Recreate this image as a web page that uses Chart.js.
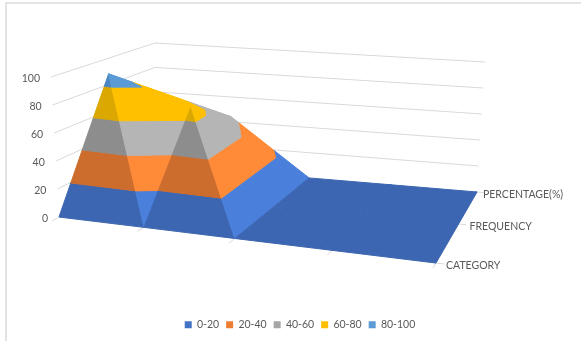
<!DOCTYPE html>
<html>
<head>
<meta charset="utf-8">
<title>Surface chart</title>
<script src="https://cdn.jsdelivr.net/npm/chart.js@4/dist/chart.umd.min.js"></script>
<style>
    html, body { margin: 0; padding: 0; background: #fff; }
    canvas { display: block; }
</style>
</head>
<body>
<canvas id="surface" width="581" height="341"></canvas>
<script>
// surface values, one list per series, five categories each
const seriesNames = ["CATEGORY", "FREQUENCY", "PERCENTAGE(%)"]
const categoryValues = [0, 0, 0, 0, 0]
const frequencyValues = [88, 68, 0, 0, 0]
const percentageValues = [45, 44, 0, 0, 0]
const valueTicks = [0, 20, 40, 60, 80, 100]
const bandNames = ["0-20", "20-40", "40-60", "60-80", "80-100"]
const bandFloors = [0, 20, 40, 60, 80]
const bandSize = 20

const legendColors = ["#4472c4", "#ed7d31", "#a5a5a5", "#ffc000", "#5b9bd5"]
const shadeColors = ["#3c66b1", "#cc6d2e", "#8d8d8d", "#daa800", "#4c86c2"]
const lightColors = ["#4a7fdb", "#ff8a37", "#b5b5b5", "#ffc000", "#5b9bd5"]
const gridColor = "#d9d9d9"
const textColor = "#595959"
const seriesLabelGaps = [10, 11, 6]

let rows = [categoryValues, frequencyValues, percentageValues]

// view box of the 3D plot: floor and roof corners as seen on the page
const view = {
    frontLeft: [[59, 217], [51, 77]],
    backLeft: [[155, 165], [155, 43]],
    frontRight: [[436, 263], [444, 115]],
    backRight: [[477, 192], [485, 62]]
}
const frontWarp = 1.145
const backWarp = 1.09
const depthWarp = 0.82
const depthFalloff = 0.12

let warp = (t, w) => t / (t + w * (1 - t))
let mix = (a, b, t) => [a[0] + (b[0] - a[0]) * t, a[1] + (b[1] - a[1]) * t]

// u: 0..1 along the categories, s: 0..1 into the depth, value: 0..100
let project = (u, s, value) => {
    let ws = warp(s, depthWarp)
    let wu = warp(u, frontWarp + (backWarp - frontWarp) * ws)
    let h = value / 100
    let left = mix(mix(view.frontLeft[0], view.frontLeft[1], h), mix(view.backLeft[0], view.backLeft[1], h), ws)
    let right = mix(mix(view.frontRight[0], view.frontRight[1], h), mix(view.backRight[0], view.backRight[1], h), ws)
    let p = mix(left, right, wu)
    return { x: p[0], y: p[1] }
}

let cols = rows[0].length
let vertex = (i, j) => {
    let s = j / (rows.length - 1)
    let p = project(i / (cols - 1), s, rows[j][i])
    return { x: p.x, y: p.y, v: rows[j][i], z: 1 + depthFalloff * s }
}

// cut a facet down to the part between two values,
// nearer parts of an edge take up more of the page than farther ones
let clip = (poly, limit, keepAbove) => {
    let out = []
    poly.forEach((a, k) => {
        let b = poly[(k + 1) % poly.length]
        let aIn = keepAbove ? a.v >= limit : a.v <= limit
        let bIn = keepAbove ? b.v >= limit : b.v <= limit
        if (aIn) out.push(a)
        if (aIn != bIn) {
            let t = (limit - a.v) / (b.v - a.v)
            let seen = t * b.z / ((1 - t) * a.z + t * b.z)
            out.push({
                x: a.x + (b.x - a.x) * seen,
                y: a.y + (b.y - a.y) * seen,
                v: limit,
                z: a.z + (b.z - a.z) * t
            })
        }
    })
    return out
}

// facets falling towards the later categories catch the light
let facetsOfCell = (i, j) => {
    let a = vertex(i, j), b = vertex(i + 1, j), c = vertex(i, j + 1), d = vertex(i + 1, j + 1)
    if (j == 0)
        return [{ pts: [a, b, c], light: b.v < a.v }, { pts: [b, c, d], light: d.v < c.v }]
    return [{ pts: [a, c, d], light: d.v < c.v }, { pts: [a, b, d], light: b.v < a.v }]
}

let lineSet = (points, color, width) => ({
    data: points,
    showLine: true,
    fill: false,
    borderColor: color,
    borderWidth: width,
    pointRadius: 0,
    tension: 0
})

let paintList = []

// walls
valueTicks.slice(1).forEach(v => {
    paintList.push(lineSet([project(0, 0, v), project(0, 1, v), project(1, 1, v)], gridColor, 1))
})

// floor edges with their tick marks
paintList.push(lineSet([project(0, 0, 0), project(1, 0, 0), project(1, 1, 0)], gridColor, 1))
for (let i = 0; i < cols; i++)
    paintList.push(lineSet([project(i / (cols - 1), 0, 0), project(i / (cols - 1), -0.06, 0)], gridColor, 1))
for (let j = 0; j < rows.length; j++)
    paintList.push(lineSet([project(1, j / (rows.length - 1), 0), project(1.02, j / (rows.length - 1), 0)], gridColor, 1))

// surface, from the back row to the front
for (let j = rows.length - 2; j >= 0; j--) {
    for (let i = 0; i < cols - 1; i++) {
        facetsOfCell(i, j).forEach(facet => {
            bandFloors.forEach((floor, b) => {
                let poly = clip(clip(facet.pts, floor, true), floor + bandSize, false)
                if (poly.length < 3)
                    return
                let color = facet.light ? lightColors[b] : shadeColors[b]
                paintList.push({
                    data: poly.concat([poly[0]]).map(p => ({ x: p.x, y: p.y })),
                    showLine: true,
                    fill: "shape",
                    backgroundColor: color,
                    borderColor: color,
                    borderWidth: 1,
                    pointRadius: 0,
                    tension: 0
                })
            })
        })
    }
}

// axis text and the chart frame
let textPlugin = {
    id: "axisText",
    beforeDraw(chart) {
        let ctx = chart.ctx
        ctx.save()
        ctx.strokeStyle = "#dcdcdc"
        ctx.lineWidth = 1.5
        ctx.beginPath()
        ctx.moveTo(6, 341)
        ctx.lineTo(6, 3)
        ctx.lineTo(581, 3)
        ctx.stroke()
        ctx.restore()
    },
    afterDatasetsDraw(chart) {
        let ctx = chart.ctx
        let x = chart.scales.x, y = chart.scales.y
        ctx.save()
        ctx.fillStyle = textColor
        ctx.font = "10.5px Lato"
        ctx.textBaseline = "middle"
        ctx.textAlign = "right"
        valueTicks.forEach(v => {
            let p = project(0, 0, v)
            ctx.fillText(String(v), x.getPixelForValue(p.x) - 11, y.getPixelForValue(p.y) + 2)
        })
        ctx.textAlign = "left"
        seriesNames.forEach((name, j) => {
            let p = project(1, j / (rows.length - 1), 0)
            ctx.fillText(name, x.getPixelForValue(p.x) + seriesLabelGaps[j], y.getPixelForValue(p.y) + 3)
        })
        ctx.restore()
    }
}

new Chart("surface", {
    type: "scatter",
    data: { datasets: paintList.reverse() },
    plugins: [textPlugin],
    options: {
        responsive: false,
        animation: false,
        layout: { padding: { left: 19, bottom: 1 } },
        scales: {
            x: { type: "linear", display: false, min: 19, max: 581, bounds: "data" },
            y: {
                type: "linear",
                display: false,
                reverse: true,
                bounds: "data",
                afterDataLimits: scale => {
                    scale.min = 0
                    scale.max = scale.height
                }
            }
        },
        plugins: {
            tooltip: { enabled: false },
            legend: {
                position: "bottom",
                onClick: null,
                labels: {
                    boxWidth: 7,
                    boxHeight: 7,
                    padding: 7,
                    color: textColor,
                    font: { family: "Lato", size: 10.5 },
                    generateLabels: () => bandNames.map((name, b) => ({
                        text: name,
                        fillStyle: legendColors[b],
                        strokeStyle: legendColors[b],
                        lineWidth: 0,
                        fontColor: textColor,
                        datasetIndex: b
                    }))
                }
            }
        }
    }
})
</script>
</body>
</html>
